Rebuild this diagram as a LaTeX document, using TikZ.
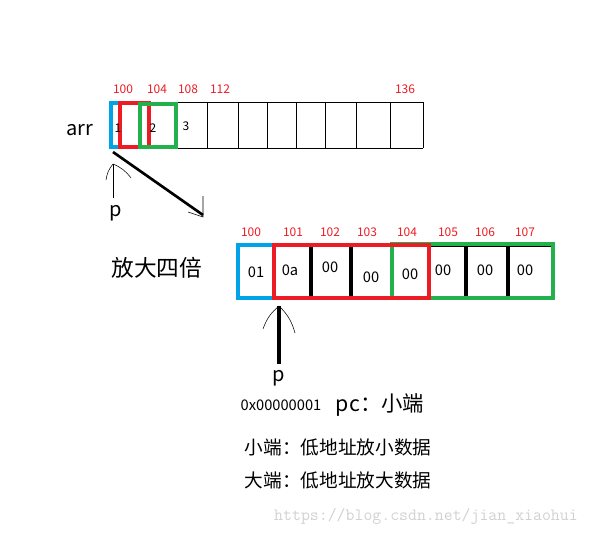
\documentclass[tikz,border=0pt]{standalone}
\usepackage{fontspec}
\setmainfont{Noto Sans CJK SC}
\usetikzlibrary{arrows.meta}
\definecolor{addrred}{RGB}{237,28,36}
\definecolor{boxblue}{RGB}{0,162,232}
\definecolor{boxgreen}{RGB}{34,177,76}
\begin{document}
\begin{tikzpicture}[x=0.75pt,y=-0.75pt]
	\tikzstyle{addr}=[text=addrred,font=\fontsize{9}{10}\selectfont]
	\tikzstyle{cell}=[font=\fontsize{11}{13}\selectfont]
	\tikzstyle{big}=[font=\fontsize{15}{17}\selectfont]
	\useasboundingbox (0,0) rectangle (608,536);
	
	% top array
	\draw (110,102) -- (423,102) (110,148) -- (423,148);
	\foreach \xx in {177,207,238,267,296,325,356,390,423}
		\draw (\xx,102) -- (\xx,148);
	\draw[boxblue, line width=2.4pt] (111,103) rectangle (140,147);
	\draw[addrred, line width=2.4pt] (120,103) rectangle (149,147);
	\draw[boxgreen, line width=2.4pt] (140,104) rectangle (176,147);
	\foreach \xx/\lab in {123/100,157/104,188/108,220/112,405/136}
		\node[addr] (a\lab) at (\xx,89) {\lab};
	\node[font=\fontsize{9}{10}\selectfont] (v1) at (118,128) {1};
	\node[font=\fontsize{9}{10}\selectfont] (v2) at (153,128) {2};
	\node[font=\fontsize{9}{10}\selectfont] (v3) at (186,126) {3};
	\node[big] (arr) at (80,130) {arr};
	
	% pointer p to top array
	\node[big] (p1) at (116,213) {p};
	\coordinate (p1tip) at (113,164);
	\draw (113,198) -- (p1tip);
	\draw (106,180) to[bend left=15] (p1tip) (p1tip) to[bend left=15] (131,178);
	\coordinate (zs) at (113,152);
	\coordinate (ze) at (203,215);
	\draw[line width=2pt] (zs) -- (ze);
	\draw (203,196) -- (203,217) -- (188,212);
	\node[font=\fontsize{17}{19}\selectfont] (zoom) at (157,268) {放大四倍};
	
	% bottom array
	\draw (274,246) -- (553,246) (274,297) -- (553,297);
	\foreach \xx in {311,351,466,508}
		\draw[line width=2.4pt] (\xx,246) -- (\xx,297);
	\draw[boxblue, line width=2.4pt] (238,245) rectangle (274,298);
	\draw[boxgreen, line width=2.4pt] (392,244) rectangle (553,298);
	\draw[addrred, line width=2.4pt] (274,245) rectangle (429,298);
	\foreach \xx/\lab in {251/100,293/101,330/102,367/103,407/104,448/105,485/106,525/107}
		\node[addr] (b\lab) at (\xx,232) {\lab};
	\foreach \xx/\yy/\lab/\nm in {256/272/01/c0,290/270/0a/c1,330/267/00/c2,371/277/00/c3,410/274/00/c4,443/270/00/c5,485/270/00/c6,525/270/00/c7}
		\node[cell] (\nm) at (\xx,\yy) {\lab};
	
	% pointer p to bottom array
	\coordinate (p2tip) at (279,306);
	\draw[line width=2.4pt] (279,364) -- (p2tip);
	\draw (263,329) to[bend left=15] (p2tip) (p2tip) to[bend left=15] (295,333);
	\node[big] (p2) at (279,378) {p};
	\node[font=\fontsize{11}{13}\selectfont] (hex) at (281,405) {0x00000001};
	\node[font=\fontsize{16}{18}\selectfont] (pc) at (380,405) {pc：小端};
	\node[font=\fontsize{14}{16}\selectfont] (le) at (338,447) {小端：低地址放小数据};
	\node[font=\fontsize{14}{16}\selectfont] (be) at (338,480) {大端：低地址放大数据};
	\node[text=black!18, font=\ttfamily\fontsize{13}{15}\selectfont] (wm) at (426,516) {https://blog.csdn.net/jian\_xiaohui};
\end{tikzpicture}
\end{document}
